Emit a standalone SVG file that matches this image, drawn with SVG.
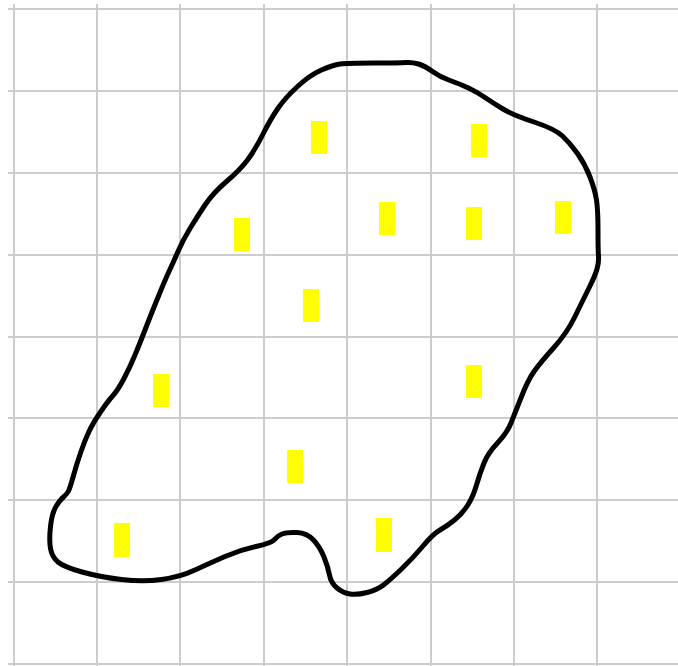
<svg xmlns="http://www.w3.org/2000/svg" width="678" height="666" viewBox="0 0 678 666">
<style>
.grid line{stroke:#cccccc;stroke-width:2}
.blob{fill:none;stroke:#000;stroke-width:5;stroke-linejoin:round;stroke-linecap:round}
.mark{fill:#ffff00}
</style>
<rect width="678" height="666" fill="#fff"/>
<g class="grid" id="grid">
<line x1="14" y1="4" x2="14" y2="666"/>
<line x1="97" y1="4" x2="97" y2="666"/>
<line x1="180" y1="4" x2="180" y2="666"/>
<line x1="264" y1="4" x2="264" y2="666"/>
<line x1="347" y1="4" x2="347" y2="666"/>
<line x1="431" y1="4" x2="431" y2="666"/>
<line x1="514" y1="4" x2="514" y2="666"/>
<line x1="597" y1="4" x2="597" y2="666"/>
<line x1="8" y1="9" x2="678" y2="9"/>
<line x1="8" y1="91" x2="678" y2="91"/>
<line x1="8" y1="173" x2="678" y2="173"/>
<line x1="8" y1="255" x2="678" y2="255"/>
<line x1="8" y1="337" x2="678" y2="337"/>
<line x1="8" y1="418" x2="678" y2="418"/>
<line x1="8" y1="500" x2="678" y2="500"/>
<line x1="8" y1="582" x2="678" y2="582"/>
<line x1="8" y1="664" x2="678" y2="664"/>
</g>
<g id="outline">
<path class="blob" d="M 340,64 Q 347,63 373.5,63 Q 400,63 406,62.5 Q 412,62 418.5,64 Q 425,66 432.5,71.5 Q 440,77 450,80.5 Q 460,84 468.5,88 Q 477,92 485,97.5 Q 493,103 503,109 Q 513,115 534,122 Q 555,129 562.5,136 Q 570,143 577.5,153.5 Q 585,164 590,177 Q 595,190 596.5,200 Q 598,210 598,230 Q 598,250 598.5,256 Q 599,262 597,269 Q 595,276 589,288 Q 583,300 575,316.5 Q 567,333 553.5,348 Q 540,363 534,371.5 Q 528,380 521.5,396.5 Q 515,413 511,423 Q 507,433 497.5,443 Q 488,453 484,463 Q 480,473 476.5,485 Q 473,497 467.5,505.5 Q 462,514 454.5,520 Q 447,526 440,530 Q 433,534 423,546 Q 413,558 401.5,569 Q 390,580 383.5,585 Q 377,590 367,592.5 Q 357,595 350,594 Q 343,593 337,588 Q 331,583 329.5,575 Q 328,567 324,557 Q 320,547 313.5,540 Q 307,533 297,532.5 Q 287,532 282,534 Q 277,536 274.5,539.5 Q 272,543 256,546.5 Q 240,550 225,556.5 Q 210,563 195,570 Q 180,577 161.5,579.5 Q 143,582 121.5,579.5 Q 100,577 82,572 Q 64,567 58,562 Q 52,557 50.5,548.5 Q 49,540 50.5,526.5 Q 52,513 56,506.5 Q 60,500 63.5,497 Q 67,494 68.5,491 Q 70,488 73.5,475.5 Q 77,463 81,451.5 Q 85,440 89,431.5 Q 93,423 100.5,412 Q 108,401 113,395.5 Q 118,390 124,378.5 Q 130,367 135,355 Q 140,343 145,330 Q 150,317 157.5,298.5 Q 165,280 169,271.5 Q 173,263 178,251.5 Q 183,240 190,228.5 Q 197,217 205,205 Q 213,193 226.5,181.5 Q 240,170 247.5,160 Q 255,150 262.5,135 Q 270,120 277.5,109 Q 285,98 297.5,86.5 Q 310,75 321.5,70 Q 333,65 340,64 Z"/>
</g>
<g id="marks">
<rect id="m1" class="mark" x="311" y="121" width="16" height="33"/>
<rect id="m2" class="mark" x="471" y="124" width="16" height="33"/>
<rect id="m3" class="mark" x="234" y="218" width="16" height="33"/>
<rect id="m4" class="mark" x="379" y="202" width="16" height="33"/>
<rect id="m5" class="mark" x="466" y="207" width="16" height="33"/>
<rect id="m6" class="mark" x="555" y="201" width="16" height="33"/>
<rect id="m7" class="mark" x="303" y="289" width="16" height="33"/>
<rect id="m8" class="mark" x="153" y="374" width="16" height="33"/>
<rect id="m9" class="mark" x="466" y="365" width="16" height="33"/>
<rect id="m10" class="mark" x="287" y="450" width="16" height="33"/>
<rect id="m11" class="mark" x="114" y="523" width="16" height="34"/>
<rect id="m12" class="mark" x="376" y="518" width="16" height="34"/>
</g>
</svg>
